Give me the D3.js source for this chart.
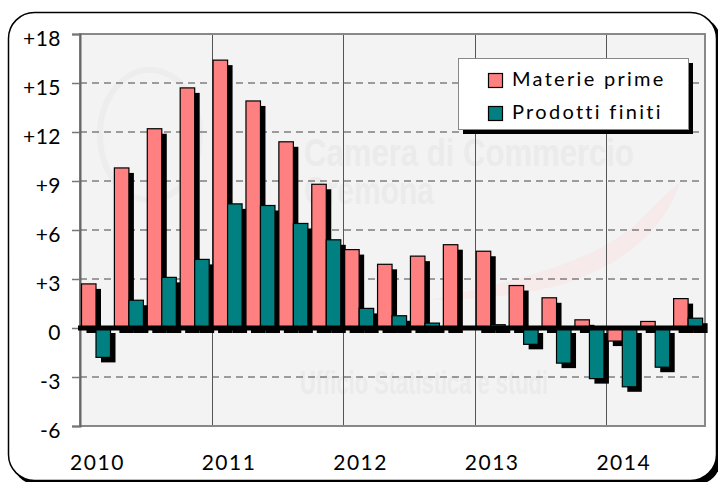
<!DOCTYPE html>
<html>
<head>
<meta charset="utf-8">
<script src="https://cdn.jsdelivr.net/npm/d3@7"></script>
<style>
  body { margin: 0; background: #fff; }
  svg { display: block; font-family: Lato, "Open Sans", sans-serif; }
</style>
</head>
<body>
<svg id="chart"></svg>
<script>
let quarters = ["2010T1","2010T2","2010T3","2010T4",
                "2011T1","2011T2","2011T3","2011T4",
                "2012T1","2012T2","2012T3","2012T4",
                "2013T1","2013T2","2013T3","2013T4",
                "2014T1","2014T2","2014T3"]
let materiePrime   = [2.7, 9.8, 12.2, 14.7, 16.4, 13.9, 11.4, 8.8, 4.8, 3.9, 4.4, 5.1, 4.7, 2.6, 1.85, 0.5, -0.8, 0.4, 1.8]
let prodottiFiniti = [-1.8, 1.7, 3.1, 4.2, 7.6, 7.5, 6.4, 5.4, 1.2, 0.75, 0.3, 0.0, 0.2, -1.0, -2.15, -3.1, -3.6, -2.4, 0.6]
let seriesNames = ["Materie prime", "Prodotti finiti"]
let seriesColors = ["#ff8080", "#008080"]
let yTicks = [-6, -3, 0, 3, 6, 9, 12, 15, 18]
let yearTicks = ["2010T1","2011T1","2012T1","2013T1","2014T1"]
let yearLabels = ["2010","2011","2012","2013","2014"]

let width = 718
let height = 482
let plot = {left: 80, right: 705, top: 34, bottom: 426}

let svg = d3.select("#chart").attr("width", width).attr("height", height)

// outer rounded frame with its shadow
svg.append("rect").attr("x", 12).attr("y", 16).attr("width", 709).attr("height", 469)
  .attr("rx", 26).attr("fill", "#000")
svg.append("rect").attr("x", 8.5).attr("y", 12.5).attr("width", 708).attr("height", 468)
  .attr("rx", 26).attr("fill", "#fff").attr("stroke", "#000").attr("stroke-width", 1.5)

let x0 = d3.scaleBand().domain(quarters).range([plot.left, plot.right])
let x1 = d3.scaleBand().domain(seriesNames).range([1.5, 30.5])
let y = d3.scaleLinear().domain([-6, 18]).range([plot.bottom, plot.top])

// plot background
svg.append("rect").attr("x", plot.left).attr("y", plot.top)
  .attr("width", plot.right - plot.left).attr("height", plot.bottom - plot.top)
  .attr("fill", "#f3f3f3")

// faint watermark (logo, swoosh, office name)
svg.append("ellipse").attr("cx", 150).attr("cy", 135).attr("rx", 50).attr("ry", 65)
  .attr("fill", "none").attr("stroke", "#ededed").attr("stroke-width", 6)
svg.append("path").attr("d", "M430,300 C520,280 600,260 640,220 C660,200 670,190 680,182 C670,215 640,260 560,285 C520,296 470,300 430,300 Z")
  .attr("fill", "#f6eaea")
let wm = svg.append("g").attr("fill", "#ebebeb").attr("font-family", "'Liberation Sans', sans-serif").attr("font-weight", "bold")
wm.append("text").attr("x", 304).attr("y", 166).attr("font-size", 38)
  .attr("textLength", 330).attr("lengthAdjust", "spacingAndGlyphs").text("Camera di Commercio")
wm.append("text").attr("x", 304).attr("y", 204).attr("font-size", 38)
  .attr("textLength", 130).attr("lengthAdjust", "spacingAndGlyphs").text("Cremona")
wm.append("text").attr("x", 300).attr("y", 394).attr("font-size", 34)
  .attr("textLength", 248).attr("lengthAdjust", "spacingAndGlyphs").text("Ufficio Statistica e studi")

// grid lines
svg.append("g").selectAll("line").data(yTicks.filter(d => d != 0 && d != 18 && d != -6))
  .enter().append("line")
  .attr("x1", plot.left).attr("x2", plot.right)
  .attr("y1", d => y(d)).attr("y2", d => y(d))
  .attr("stroke", "#444").attr("stroke-dasharray", "7,5")
svg.append("g").selectAll("line").data(yearTicks.slice(1))
  .enter().append("line")
  .attr("x1", d => Math.round(x0(d)) + 0.5).attr("x2", d => Math.round(x0(d)) + 0.5)
  .attr("y1", plot.top).attr("y2", plot.bottom)
  .attr("stroke", "#555")

// plot border
svg.append("rect").attr("x", plot.left).attr("y", plot.top)
  .attr("width", plot.right - plot.left).attr("height", plot.bottom - plot.top)
  .attr("fill", "none").attr("stroke", "#888").attr("stroke-width", 2)

// y axis
let yAxis = d3.axisLeft(y).tickValues(yTicks).tickSize(8).tickPadding(11)
  .tickFormat(d => d > 0 ? "+" + d : String(d))
let ga = svg.append("g").attr("transform", "translate(" + plot.left + ",0)").call(yAxis)
ga.select(".domain").attr("stroke", "#666").attr("stroke-width", 2)
ga.selectAll(".tick line").attr("stroke", "#777").attr("stroke-width", 1.5)
ga.selectAll(".tick text").attr("font-size", 21).attr("fill", "#000").attr("dy", "0.55em")
  .attr("font-family", "Lato, sans-serif").attr("letter-spacing", "0.5px")

// x axis labels
let xAxis = d3.axisBottom(x0).tickValues(yearTicks).tickSize(0).tickPadding(29)
  .tickFormat(d => yearLabels[yearTicks.indexOf(d)])
let gx = svg.append("g").attr("transform", "translate(0," + plot.bottom + ")").call(xAxis)
gx.select(".domain").remove()
gx.selectAll(".tick text").attr("font-size", 21).attr("fill", "#000")
  .attr("font-family", "Lato, sans-serif").attr("letter-spacing", "1.5px").attr("dx", 1)

// bars with drop shadows
let rows = quarters.map((q, i) => ({q: q, vals: [materiePrime[i], prodottiFiniti[i]]}))
let groups = svg.append("g").selectAll("g").data(rows).enter().append("g")
  .attr("transform", d => "translate(" + x0(d.q) + ",0)")
seriesNames.forEach((s, k) => {
  groups.append("rect")
    .attr("x", x1(s) + 5).attr("width", x1.bandwidth())
    .attr("y", d => Math.min(y(0), y(d.vals[k])) + 5)
    .attr("height", d => Math.abs(y(d.vals[k]) - y(0)))
    .attr("fill", "#000")
  groups.append("rect")
    .attr("x", x1(s)).attr("width", x1.bandwidth())
    .attr("y", d => Math.min(y(0), y(d.vals[k])))
    .attr("height", d => Math.abs(y(d.vals[k]) - y(0)))
    .attr("fill", seriesColors[k]).attr("stroke", "#000").attr("stroke-width", 1.2)
})

// zero line
svg.append("line").attr("x1", plot.left - 2).attr("x2", plot.right + 2)
  .attr("y1", y(0)).attr("y2", y(0)).attr("stroke", "#000").attr("stroke-width", 5)

// legend
let legend = svg.append("g").attr("transform", "translate(458,58)")
legend.append("rect").attr("x", 5).attr("y", 5).attr("width", 230).attr("height", 71).attr("fill", "#000")
legend.append("rect").attr("x", 0.5).attr("y", 0.5).attr("width", 230).attr("height", 71)
  .attr("fill", "#fff").attr("stroke", "#888")
seriesNames.forEach((s, k) => {
  legend.append("rect").attr("x", 30.5).attr("y", 15.5 + k * 33).attr("width", 14).attr("height", 14)
    .attr("fill", seriesColors[k]).attr("stroke", "#000").attr("stroke-width", 1.2)
  legend.append("text").attr("x", 54).attr("y", 28 + k * 33).attr("font-size", 20)
    .attr("letter-spacing", "2.3px").attr("fill", "#000").text(s)
})
</script>
</body>
</html>
